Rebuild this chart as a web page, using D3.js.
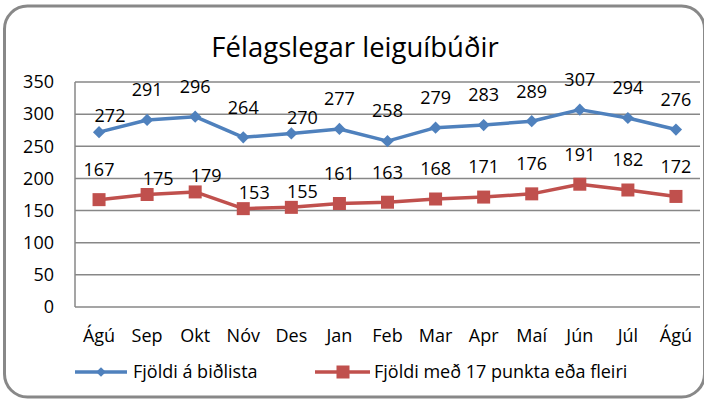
<!DOCTYPE html>
<html>
<head>
<meta charset="utf-8">
<script src="https://cdn.jsdelivr.net/npm/d3@7"></script>
<style>
  body { margin: 0; background: #fff; }
  text { font-family: "Open Sans", "Noto Sans", sans-serif; fill: #000; }
</style>
</head>
<body>
<div id="chart"></div>
<script>
var months = ['Ágú','Sep','Okt','Nóv','Des','Jan','Feb','Mar','Apr','Maí','Jún','Júl','Ágú'];
var bidlisti = [272,291,296,264,270,277,258,279,283,289,307,294,276];
var punktar = [167,175,179,153,155,161,163,168,171,176,191,182,172];
var yTicks = [0,50,100,150,200,250,300,350];
var seriesNames = ['Fjöldi á biðlista', 'Fjöldi með 17 punkta eða fleiri'];

var W = 704, H = 401;
var fs = '18px';
var svg = d3.select('#chart')
    .append('svg')
    .attr('width', W)
    .attr('height', H);

// outer frame
svg.append('rect')
    .attr('x', 4.5).attr('y', 6)
    .attr('width', 700).attr('height', 391)
    .attr('rx', 23).attr('ry', 23)
    .attr('fill', '#fff')
    .attr('stroke', '#888')
    .attr('stroke-width', 3);

svg.append('text')
    .text('Félagslegar leiguíbúðir')
    .attr('x', 355).attr('y', 57)
    .attr('text-anchor', 'middle')
    .style('font-size', '27.5px');

var x = d3.scaleBand().domain(d3.range(months.length)).range([75, 700]);
var y = d3.scaleLinear().domain([0, 350]).range([307, 82]);
var cx = function(i) { return x(i) + x.bandwidth() / 2; };

// gridlines
svg.append('g')
    .selectAll('line')
    .data(yTicks)
    .join('line')
    .attr('x1', 75).attr('x2', 700)
    .attr('y1', function(d) { return y(d); })
    .attr('y2', function(d) { return y(d); })
    .attr('stroke', '#878787')
    .attr('stroke-width', 1.5);

svg.append('line')
    .attr('x1', 75).attr('x2', 75)
    .attr('y1', y(0)).attr('y2', y(350))
    .attr('stroke', '#878787')
    .attr('stroke-width', 1.5);

// y axis labels
svg.append('g')
    .selectAll('text')
    .data(yTicks)
    .join('text')
    .text(function(d) { return d; })
    .attr('x', 54)
    .attr('y', function(d) { return y(d); })
    .attr('dy', '0.35em')
    .attr('text-anchor', 'end')
    .style('font-size', fs);

// x axis labels
svg.append('g')
    .selectAll('text')
    .data(months)
    .join('text')
    .text(function(d) { return d; })
    .attr('x', function(d, i) { return cx(i); })
    .attr('y', 342)
    .attr('text-anchor', 'middle')
    .style('font-size', fs);

var line = d3.line()
    .x(function(d, i) { return cx(i); })
    .y(function(d) { return y(d); });

var blue = '#4F81BD', red = '#C0504D';
var diamond = d3.symbol().type(d3.symbolDiamond2);

function drawSeries(values, color, marker, lowered) {
    var g = svg.append('g');
    g.append('path')
        .attr('d', line(values))
        .attr('fill', 'none')
        .attr('stroke', color)
        .attr('stroke-width', 3.5)
        .attr('stroke-linejoin', 'round');
    marker(g.selectAll('.m').data(values).join('g')
        .attr('transform', function(d, i) { return 'translate(' + cx(i) + ',' + y(d) + ')'; }));
    g.selectAll('.lbl')
        .data(values)
        .join('text')
        .text(function(d) { return d; })
        .attr('x', function(d, i) { return cx(i) + (lowered.indexOf(i) >= 0 ? 11 : 0); })
        .attr('y', function(d, i) { return y(d) - (lowered.indexOf(i) >= 0 ? 16 : 30); })
        .attr('dy', '0.35em')
        .attr('text-anchor', 'middle')
        .style('font-size', fs);
}

function diamondMark(sel, size) {
    sel.append('path')
        .attr('d', diamond.size(size)())
        .attr('fill', blue);
}
function squareMark(sel, s) {
    sel.append('rect')
        .attr('x', -s / 2).attr('y', -s / 2)
        .attr('width', s).attr('height', s)
        .attr('fill', red);
}

drawSeries(bidlisti, blue, function(s) { diamondMark(s, 95); }, [0, 4]);
drawSeries(punktar, red, function(s) { squareMark(s, 13); }, [1, 2, 3, 4]);

// legend
var ly = 372;
var lg1 = svg.append('g');
lg1.append('line').attr('x1', 75).attr('x2', 127).attr('y1', ly).attr('y2', ly)
    .attr('stroke', blue).attr('stroke-width', 3.5);
diamondMark(lg1.append('g').attr('transform', 'translate(101,' + ly + ')'), 60);
lg1.append('text').text(seriesNames[0])
    .attr('x', 133).attr('y', ly).attr('dy', '0.35em')
    .style('font-size', fs);

var lg2 = svg.append('g');
lg2.append('line').attr('x1', 315).attr('x2', 370).attr('y1', ly).attr('y2', ly)
    .attr('stroke', red).attr('stroke-width', 3.5);
squareMark(lg2.append('g').attr('transform', 'translate(343,' + ly + ')'), 13);
lg2.append('text').text(seriesNames[1])
    .attr('x', 374).attr('y', ly).attr('dy', '0.35em')
    .style('font-size', fs);
</script>
</body>
</html>
